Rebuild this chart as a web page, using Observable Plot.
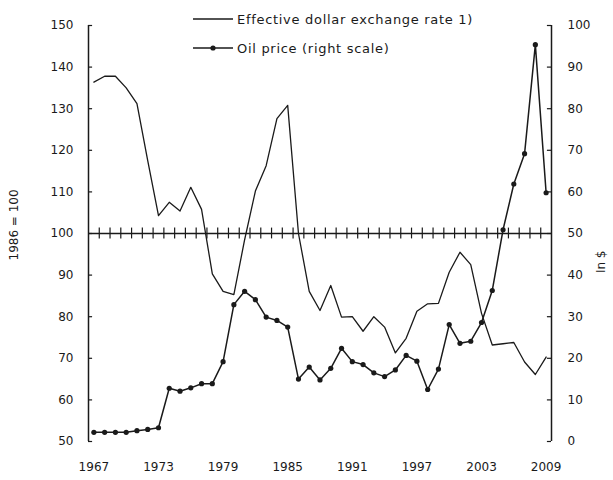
<!DOCTYPE html>
<html>
<head>
<meta charset="utf-8">
<script src="https://cdn.jsdelivr.net/npm/d3@7"></script>
<script src="https://cdn.jsdelivr.net/npm/@observablehq/plot@0.6"></script>
<style>
  html, body { margin: 0; padding: 0; background: #fff; }
  #chart { position: relative; width: 613px; height: 480px; }
</style>
</head>
<body>
<div id="chart"></div>
<script>
const years = [1967,1968,1969,1970,1971,1972,1973,1974,1975,1976,1977,1978,1979,1980,1981,1982,1983,1984,1985,1986,1987,1988,1989,1990,1991,1992,1993,1994,1995,1996,1997,1998,1999,2000,2001,2002,2003,2004,2005,2006,2007,2008,2009];
const exchangeRate = [136.4,137.8,137.8,135.0,131.2,117.5,104.3,107.5,105.4,111.1,105.8,90.3,86.1,85.3,98.5,110.2,116.3,127.6,130.8,100.0,86.1,81.5,87.5,79.9,80.0,76.5,80.0,77.5,71.3,74.8,81.3,83.1,83.2,90.7,95.5,92.5,80.8,73.2,73.5,73.8,69.1,66.1,70.3];
const oilPrice = [2.2,2.2,2.2,2.2,2.6,2.9,3.3,12.8,12.1,12.9,13.9,13.9,19.2,32.9,36.1,34.1,29.9,29.1,27.5,15.0,17.9,14.8,17.6,22.4,19.2,18.5,16.5,15.6,17.2,20.7,19.3,12.5,17.4,28.1,23.6,24.1,28.6,36.3,50.9,61.9,69.2,95.4,59.8];
const leftTicks = [50,60,70,80,90,100,110,120,130,140,150];
const rightTicks = [0,10,20,30,40,50,60,70,80,90,100];
const xLabelYears = [1967,1973,1979,1985,1991,1997,2003,2009];
const leftLabel = "1986 = 100";
const rightLabel = "In $";
const legendLabels = ["Effective dollar exchange rate 1)", "Oil price (right scale)"];

// right scale 0..100 maps onto left scale 50..150
const rightToLeft = v => v + 50;

const fxData = years.map((y, i) => ({year: y, value: exchangeRate[i]}));
const oilData = years.map((y, i) => ({year: y, value: rightToLeft(oilPrice[i])}));
const xMin = years[0] - 0.5, xMax = years[years.length - 1] + 0.5;
const catTicks = years.slice(0, -1).map(y => y + 0.5);
const rightTickData = rightTicks.map(rightToLeft);

const font = "DejaVu Sans, sans-serif";
const ink = "#1a1a1a";

const chart = Plot.plot({
  width: 613,
  height: 480,
  marginLeft: 88,
  marginRight: 62,
  marginTop: 25,
  marginBottom: 39,
  style: {fontFamily: font, fontSize: "12px", color: ink, background: "#fff"},
  x: {domain: [xMin, xMax], axis: null},
  y: {domain: [50, 150], axis: null},
  marks: [
    Plot.axisY(leftTicks, {anchor: "left", tickSize: 0, tickPadding: 15, label: null, tickFormat: d => String(d)}),
    Plot.axisY(rightTickData, {anchor: "right", tickSize: 0, tickPadding: 16, label: null, tickFormat: d => String(d - 50)}),
    Plot.axisX(xLabelYears, {anchor: "bottom", tickSize: 0, tickPadding: 21, label: null, tickFormat: d => String(d)}),
    // axis lines
    Plot.ruleX([xMin, xMax], {y1: 50, y2: 150, stroke: ink, strokeWidth: 1.5}),
    // inward ticks on left and right axes
    Plot.ruleY(leftTicks, {y: d => d, x1: xMin, x2: xMin + 0.38, stroke: ink, strokeWidth: 1.2}),
    Plot.ruleY(rightTickData, {y: d => d, x1: xMax - 0.38, x2: xMax, stroke: ink, strokeWidth: 1.2}),
    // category axis at 100
    Plot.ruleY([100], {x1: xMin, x2: xMax, stroke: ink, strokeWidth: 1.5}),
    Plot.ruleX(catTicks, {x: d => d, y1: 98.7, y2: 101.3, stroke: ink, strokeWidth: 1.2}),
    // series
    Plot.line(fxData, {x: "year", y: "value", stroke: ink, strokeWidth: 1.3}),
    Plot.line(oilData, {x: "year", y: "value", stroke: ink, strokeWidth: 1.5}),
    Plot.dot(oilData, {x: "year", y: "value", r: 2.6, fill: ink, stroke: "none"}),
    // axis titles
    Plot.text([leftLabel], {frameAnchor: "left", dx: -74, dy: 27, rotate: -90, text: d => d, fontSize: 12, fill: ink}),
    Plot.text([rightLabel], {frameAnchor: "right", dx: 50, dy: 17, rotate: -90, text: d => d, fontSize: 12, fill: ink})
  ]
});

document.getElementById("chart").appendChild(chart);

// legend drawn into the SVG
const svg = d3.select(chart);
const lg = svg.append("g").attr("font-family", font).attr("font-size", 13)
  .attr("letter-spacing", "0.7px").attr("fill", ink).attr("text-anchor", "start");
const rows = [{y: 19, dot: false}, {y: 48, dot: true}];
rows.forEach((r, i) => {
  lg.append("line").attr("x1", 193).attr("x2", 233).attr("y1", r.y).attr("y2", r.y)
    .attr("stroke", ink).attr("stroke-width", i ? 1.5 : 1.3);
  if (r.dot) lg.append("circle").attr("cx", 213).attr("cy", r.y).attr("r", 2.6).attr("fill", ink);
  lg.append("text").attr("x", 237).attr("y", r.y).attr("dy", "0.35em").text(legendLabels[i]);
});
</script>
</body>
</html>
